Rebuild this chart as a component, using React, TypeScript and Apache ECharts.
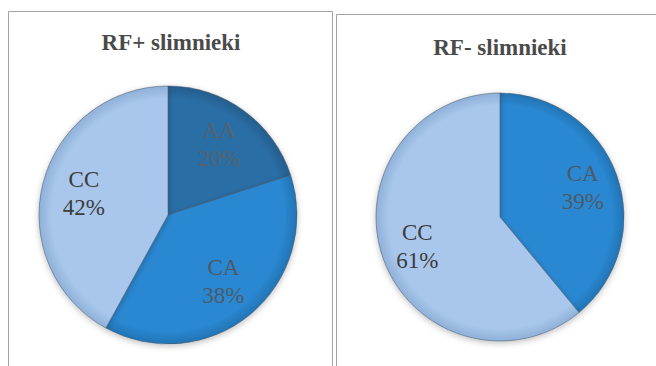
import React, { useEffect, useRef } from "react";
import * as echarts from "echarts";

// Genotype shares (percent) for the two patient groups
const groupTitles = ["RF+ slimnieki", "RF- slimnieki"];
const rfPosNames = ["AA", "CA", "CC"];
const rfPosValues = [20, 38, 42];
const rfNegNames = ["CA", "CC"];
const rfNegValues = [39, 61];

const COLORS: Record<string, string> = {
  AA: "#2b6ea6",
  CA: "#2a88d2",
  CC: "#a9c7ec",
};
const EDGE: Record<string, string> = {
  AA: "#245d8c",
  CA: "#2274b4",
  CC: "#8fb0d8",
};
const LABEL_COLORS: Record<string, string> = {
  AA: "#55636e",
  CA: "#4b5a66",
  CC: "#3c3c3c",
};

const W = 656;
const H = 366;
const SERIF = "'Liberation Serif', 'Times New Roman', serif";

type PieSpec = { cx: number; cy: number; r: number; labelRatio: number };
const PIES: PieSpec[] = [
  { cx: 168, cy: 215, r: 129, labelRatio: 1.3 },
  { cx: 500, cy: 217, r: 124, labelRatio: 1.37 },
];

function sliceColor(name: string, p: PieSpec) {
  return {
    type: "radial",
    x: p.cx,
    y: p.cy,
    r: p.r,
    global: true,
    colorStops: [
      { offset: 0, color: COLORS[name] },
      { offset: 0.9, color: COLORS[name] },
      { offset: 1, color: EDGE[name] },
    ],
  };
}

function pieSeries(names: string[], values: number[], p: PieSpec) {
  const data = names.map((n, i) => ({
    name: n,
    value: values[i],
    itemStyle: { color: sliceColor(n, p) },
  }));
  return {
    type: "pie",
    center: [p.cx, p.cy],
    radius: [0, p.r],
    startAngle: 90,
    clockwise: true,
    label: { show: false },
    labelLine: { show: false },
    itemStyle: {
      borderColor: "rgba(70,90,110,0.55)",
      borderWidth: 1,
      shadowBlur: 6,
      shadowOffsetY: 2,
      shadowColor: "rgba(0,0,0,0.25)",
    },
    emphasis: { disabled: true },
    silent: true,
    data,
  };
}

// Transparent twin pie used only to seat the slice labels further out
function labelSeries(names: string[], values: number[], p: PieSpec) {
  const data = names.map((n, i) => ({
    name: n,
    value: values[i],
    label: {
      rich: {
        t: {
          color: LABEL_COLORS[n],
          fontFamily: SERIF,
          fontSize: 23,
          lineHeight: 28,
        },
      },
    },
  }));
  return {
    type: "pie",
    center: [p.cx, p.cy],
    radius: [0, p.r * p.labelRatio],
    startAngle: 90,
    clockwise: true,
    itemStyle: { color: "rgba(0,0,0,0)" },
    label: {
      show: true,
      position: "inside",
      formatter: "{t|{b}}\n{t|{c}%}",
      align: "center",
    },
    labelLine: { show: false },
    emphasis: { disabled: true },
    silent: true,
    data,
  };
}

export default function App() {
  const ref = useRef<HTMLDivElement>(null);

  useEffect(() => {
    document.body.style.margin = "0";
    if (!ref.current) return;
    const chart = echarts.init(ref.current, null, { renderer: "svg" });

    const titleFont = "bold 23px 'Liberation Serif', serif";

    chart.setOption({
      animation: false,
      backgroundColor: "#ffffff",
      graphic: [
        {
          type: "rect",
          z: -10,
          shape: { x: 8.5, y: 11.5, width: 324, height: 380 },
          style: { fill: "#ffffff", stroke: "#a3a3a3", lineWidth: 1 },
        },
        {
          type: "rect",
          z: -10,
          shape: { x: 336.5, y: 14.5, width: 340, height: 380 },
          style: { fill: "#ffffff", stroke: "#a3a3a3", lineWidth: 1 },
        },
        {
          type: "text",
          x: 171,
          y: 42,
          style: {
            text: groupTitles[0],
            font: titleFont,
            fill: "#4a4a4a",
            textAlign: "center",
            textVerticalAlign: "middle",
          },
        },
        {
          type: "text",
          x: 500,
          y: 47,
          style: {
            text: groupTitles[1],
            font: titleFont,
            fill: "#4a4a4a",
            textAlign: "center",
            textVerticalAlign: "middle",
          },
        },
      ],
      series: [
        pieSeries(rfPosNames, rfPosValues, PIES[0]),
        pieSeries(rfNegNames, rfNegValues, PIES[1]),
        labelSeries(rfPosNames, rfPosValues, PIES[0]),
        labelSeries(rfNegNames, rfNegValues, PIES[1]),
      ],
    });

    return () => chart.dispose();
  }, []);

  return <div ref={ref} style={{ width: W, height: H }} />;
}
